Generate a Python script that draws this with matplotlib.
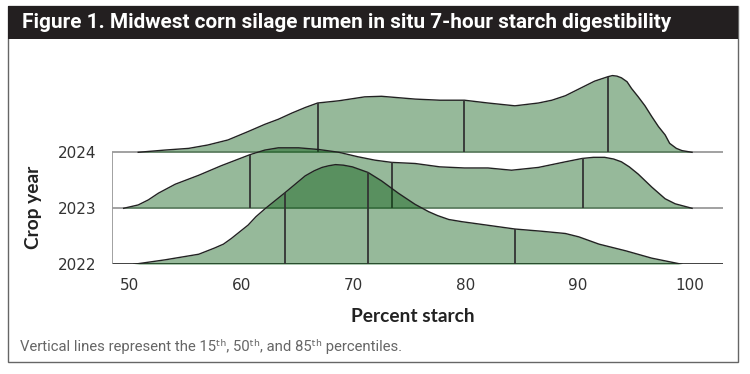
import numpy as np
import matplotlib
matplotlib.use("Agg")
import matplotlib.pyplot as plt
from matplotlib.patches import Rectangle
from matplotlib import font_manager

# Density curves (height in units of one row spacing)
years = ["2022", "2023", "2024"]

x_2024 = [50.8, 53.2, 55.3, 57.0, 58.8, 60.6, 62.1, 63.3, 64.5, 65.7, 66.8, 68.7,
          71.0, 72.5, 75.5, 77.7, 79.9, 82.0, 84.4, 86.5, 87.7, 88.9, 89.7, 90.4,
          91.5, 92.7, 93.1, 93.5, 93.9, 94.4, 94.8, 95.4, 96.0, 96.6, 97.2, 97.8,
          98.2, 98.8, 99.3, 100.2]
d_2024 = [0, .04, .07, .13, .22, .37, .50, .59, .70, .80, .88, .92,
          .99, 1.00, .95, .93, .93, .88, .83, .88, .93, 1.01, 1.09, 1.16,
          1.27, 1.35, 1.37, 1.36, 1.33, 1.26, 1.14, .99, .83, .64, .46, .31,
          .16, .07, .03, 0]

x_2023 = [49.5, 50.8, 51.7, 52.6, 54.1, 56.2, 58.2, 60.8, 62.1, 63.3, 65.1, 66.9,
          68.7, 70.4, 71.9, 73.4, 75.5, 77.7, 79.9, 82.0, 84.1, 86.5, 88.9, 90.4,
          91.4, 92.4, 93.2, 93.9, 94.6, 95.4, 96.6, 97.8, 98.7, 100.2]
d_2023 = [0, .06, .15, .27, .43, .59, .76, .96, 1.04, 1.08, 1.08, 1.05,
          1.00, .92, .86, .82, .80, .74, .72, .72, .68, .73, .83, .89,
          .91, .91, .88, .83, .74, .61, .38, .17, .08, 0]

x_2022 = [50.4, 53.2, 56.2, 57.6, 58.4, 59.1, 60.6, 61.3, 62.1, 63.9, 65.7, 66.5,
          67.2, 67.8, 68.4, 69.1, 69.9, 71.3, 72.5, 74.0, 75.5, 76.7, 77.5, 78.5,
          79.7, 80.8, 84.4, 86.8, 88.9, 90.1, 91.9, 94.3, 96.6, 99.3]
d_2022 = [0, .08, .18, .29, .36, .46, .70, .85, .99, 1.28, 1.58, 1.67,
          1.73, 1.76, 1.78, 1.77, 1.74, 1.64, 1.49, 1.27, 1.07, .94, .87, .80,
          .76, .73, .63, .59, .55, .49, .36, .24, .11, 0]

# 15th, 50th, 85th percentiles
pct_2024 = [66.8, 79.9, 92.7]
pct_2023 = [60.8, 73.4, 90.5]
pct_2022 = [63.9, 71.3, 84.4]

xticks = [50, 60, 70, 80, 90, 100]

FILL = (5 / 255, 88 / 255, 15 / 255)
ALPHA = 0.42
EDGE = "#222222"

installed = {f.name for f in font_manager.fontManager.ttflist}
NARROW = "Liberation Sans Narrow" if "Liberation Sans Narrow" in installed else "Roboto"

fig = plt.figure(figsize=(7.5, 3.74), dpi=100)
renderer = fig.canvas.get_renderer()


def fit_width(txt, width_px):
    # shrink/grow font so the text spans about width_px
    w = txt.get_window_extent(renderer).width
    txt.set_fontsize(txt.get_fontsize() * width_px / w)


# outer frame + title bar
fig.patches.append(Rectangle((8 / 750, 1 - 362 / 374), 730 / 750, 356 / 374,
                             transform=fig.transFigure, facecolor="white",
                             edgecolor="#666666", lw=1, zorder=-2))
fig.patches.append(Rectangle((8 / 750, 1 - 39 / 374), 730 / 750, 33 / 374,
                             transform=fig.transFigure, facecolor="#231f20",
                             edgecolor="none", zorder=-1))
title = fig.text(22 / 750, 1 - 23 / 374,
                 "Figure 1. Midwest corn silage rumen in situ 7-hour starch digestibility",
                 color="white", fontsize=16, fontweight="bold", va="center",
                 family=NARROW)
fit_width(title, 650)

ax = fig.add_axes([112 / 750, 1 - 264.3 / 374, 611 / 750, 204.3 / 374])
ax.set_zorder(2)
ax.patch.set_alpha(0)
xmin, xmax = 48.46, 102.96
ax.set_xlim(xmin, xmax)
ax.set_ylim(0, 3.648)
for s in ax.spines.values():
    s.set_visible(False)

curves = [(x_2024, d_2024, pct_2024, 2), (x_2023, d_2023, pct_2023, 1),
          (x_2022, d_2022, pct_2022, 0)]

# baselines and left rule
ax.hlines([1, 2], xmin, xmax, color="#9a9a9a", lw=1.3, zorder=1)
ax.hlines([0], xmin, xmax, color="#333333", lw=1.3, zorder=1)
ax.vlines([xmin], 0, 2, color="#9a9a9a", lw=1.3, zorder=1)

for i, (xs, ds, pcts, base) in enumerate(curves):
    xs = np.array(xs)
    ys = base + np.array(ds)
    ax.fill_between(xs, base, ys, color=FILL, alpha=ALPHA, lw=0, zorder=2 + i)
    ax.plot(xs, ys, color=EDGE, lw=1.0, zorder=2 + i, solid_joinstyle="round")
    for p in pcts:
        top = np.interp(p, xs, ys)
        ax.vlines(p, base, top, color="#333333", lw=1.3, zorder=2 + i)

ax.set_yticks([0, 1, 2])
ax.set_yticklabels(years)
ax.set_xticks(xticks)
ax.set_xticklabels([str(t) for t in xticks])
ax.tick_params(axis="both", length=0, labelsize=11, colors="#333333")
ax.tick_params(axis="y", pad=11)
ax.tick_params(axis="x", pad=10)

fig.text(33 / 750, 1 - 207 / 374, "Crop year", rotation=90, ha="center",
         va="center", fontsize=13.8, fontweight="bold", color="#222222",
         family="Lato")
fig.text(413 / 750, 1 - 316 / 374, "Percent starch", ha="center", va="center",
         fontsize=13.8, fontweight="bold", color="#222222", family="Lato")
note = fig.text(20 / 750, 1 - 346 / 374,
                "Vertical lines represent the 15\u1d57\u02b0, 50\u1d57\u02b0, and 85\u1d57\u02b0 percentiles.",
                ha="left", va="center", fontsize=10.5, color="#666666",
                family=[NARROW, "DejaVu Sans"])
fit_width(note, 383)

fig.savefig("out.png", dpi=100)
